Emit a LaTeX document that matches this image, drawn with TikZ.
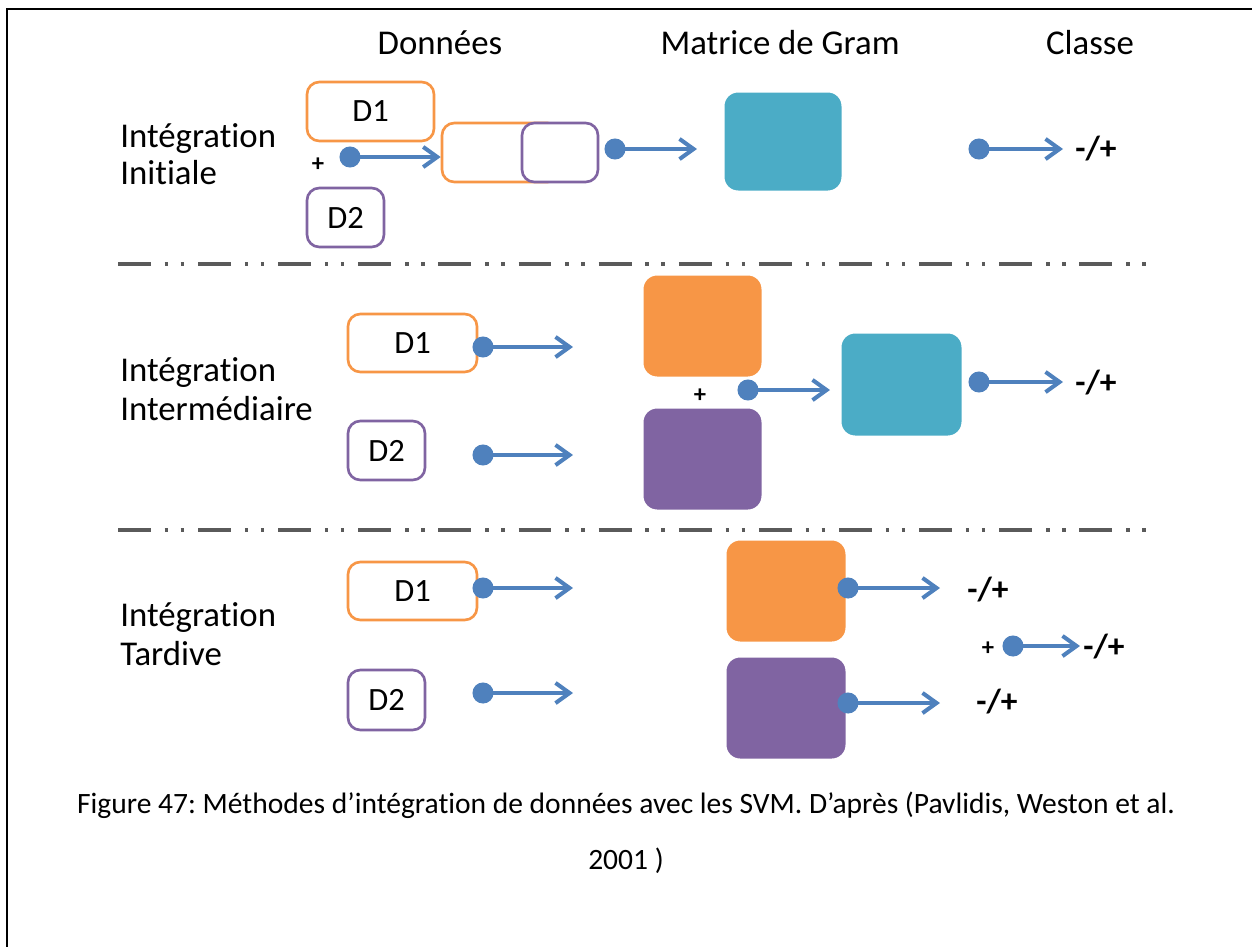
\documentclass[tikz,border=0pt]{standalone}
\usepackage{fontspec}
\setmainfont{Carlito}[Ligatures={NoCommon}]
\usetikzlibrary{arrows.meta, positioning}
\definecolor{orgC}{HTML}{F79646}
\definecolor{purC}{HTML}{8064A2}
\definecolor{teaC}{HTML}{4BACC6}
\definecolor{bluC}{HTML}{4F81BD}
\definecolor{sepC}{HTML}{5A5A5A}
\frenchspacing

\begin{document}
\begin{tikzpicture}[x=0.02cm, y=-0.02cm,
  txt/.style={font=\fontsize{19.8}{21}\selectfont, inner sep=0pt},
  hdr/.style={txt, anchor=base},
  rowlab/.style={txt, anchor=base west},
  dbox/.style={draw, line width=1.5pt, rounded corners=7pt, fill=white, inner sep=0pt, font=\fontsize{18.5}{20}\selectfont},
  dboxA/.style={dbox, draw=orgC},
  dboxB/.style={dbox, draw=purC},
  mat/.style={draw=white, line width=1.7pt, rounded corners=8.5pt, inner sep=0pt},
  dot/.style={circle, fill=bluC, minimum size=12pt, inner sep=0pt},
  link/.style={draw=bluC, line width=2.3pt, -{Straight Barb[length=8pt, width=11.5pt]}},
  cls/.style={font=\fontsize{19}{20}\selectfont\bfseries, inner sep=0pt},
  pls/.style={font=\fontsize{14}{14}\selectfont\bfseries, inner sep=0pt},
  sepline/.style={draw=sepC, line width=2.6pt, dash pattern=on 18.7pt off 7.9pt on 2pt off 7.1pt on 2pt off 7.9pt},
  capt/.style={font=\fontsize{16.8}{18}\selectfont, inner sep=0pt, anchor=base}
]
\useasboundingbox (0,0) rectangle (1252,947);
\draw[line width=1.7pt] (7,947) -- (7,9) -- (1252,9);

\node[hdr] (h1) at (440,54) {Données};
\node[hdr] (h2) at (780,54) {Matrice de Gram};
\node[hdr] (h3) at (1090,54) {Classe};

\node[rowlab] (r1a) at (120,147) {Intégration};
\node[rowlab] (r1b) at (120,184) {Initiale};
\node[dboxA, minimum width=2.54cm, minimum height=1.18cm] (d1a) at (370.5,111.5) {D1};
\node[dboxB, minimum width=1.54cm, minimum height=1.18cm] (d2a) at (345.5,217.5) {D2};
\node[pls] (pl1) at (318,165) {+};
\node[dboxA, minimum width=2.36cm, minimum height=1.18cm] (cat1) at (501,152.5) {};
\node[dboxB, minimum width=1.52cm, minimum height=1.18cm] (cat2) at (560,152.5) {};
\node[mat, fill=teaC, minimum width=2.4cm, minimum height=2.02cm] (g1) at (783,141.5) {};
\node[cls] (c1) at (1096,149) {-/+};
\node[dot] (p1) at (350,157) {};
\node[dot] (p2) at (615,149) {};
\node[dot] (p3) at (979,149) {};
\draw[link] (p1.center) -- (p1 -| cat1.west);
\draw[link] (p2.center) -- ++(82,0);
\draw[link] (p3.center) -- ++(84,0);

\draw[sepline] (118,264) -- (1158,264);

\node[rowlab] (r2a) at (120,381) {Intégration};
\node[rowlab] (r2b) at (120,420) {Intermédiaire};
\node[dboxA, minimum width=2.58cm, minimum height=1.16cm] (d1b) at (412.5,343) {D1};
\node[dboxB, minimum width=1.54cm, minimum height=1.18cm] (d2b) at (386.5,450.5) {D2};
\node[mat, fill=orgC, minimum width=2.42cm, minimum height=2.08cm] (kA) at (702.5,326) {};
\node[mat, fill=purC, minimum width=2.42cm, minimum height=2.08cm] (kB) at (702.5,459) {};
\node[pls] (pl2) at (700,396) {+};
\node[mat, fill=teaC, minimum width=2.46cm, minimum height=2.1cm] (g2) at (901.5,384.5) {};
\node[cls] (c2) at (1096,383) {-/+};
\node[dot] (p4) at (483,347) {};
\node[dot] (p5) at (483,455) {};
\node[dot] (p6) at (748,390) {};
\node[dot] (p7) at (979,382) {};
\draw[link] (p4.center) -- ++(90,0);
\draw[link] (p5.center) -- ++(90,0);
\draw[link] (p6.center) -- ++(82,0);
\draw[link] (p7.center) -- ++(84,0);

\draw[sepline] (118,530) -- (1158,530);

\node[rowlab] (r3a) at (120,626) {Intégration};
\node[rowlab] (r3b) at (120,665) {Tardive};
\node[dboxA, minimum width=2.58cm, minimum height=1.16cm] (d1c) at (412.5,591) {D1};
\node[dboxB, minimum width=1.54cm, minimum height=1.2cm] (d2c) at (386.5,700) {D2};
\node[mat, fill=orgC, minimum width=2.44cm, minimum height=2.08cm] (kC) at (786,591) {};
\node[mat, fill=purC, minimum width=2.44cm, minimum height=2.08cm] (kD) at (786,708) {};
\node[cls] (c3) at (988,590) {-/+};
\node[cls] (c4) at (997,702) {-/+};
\node[pls] (pl3) at (988,649) {+};
\node[cls] (c5) at (1104,647) {-/+};
\node[dot] (p8) at (483,588) {};
\node[dot] (p9) at (483,693) {};
\node[dot] (p10) at (848,588) {};
\node[dot] (p11) at (848,703) {};
\node[dot] (p12) at (1013,646) {};
\draw[link] (p8.center) -- ++(90,0);
\draw[link] (p9.center) -- ++(90,0);
\draw[link] (p10.center) -- ++(92,0);
\draw[link] (p11.center) -- ++(92,0);
\draw[link] (p12.center) -- ++(67,0);

\node[capt] (cap1) at (626,813) {Figure 47: Méthodes d’intégration de données avec les SVM. D’après (Pavlidis, Weston et al.};
\node[capt] (cap2) at (626,869) {2001 )};
\end{tikzpicture}
\end{document}
